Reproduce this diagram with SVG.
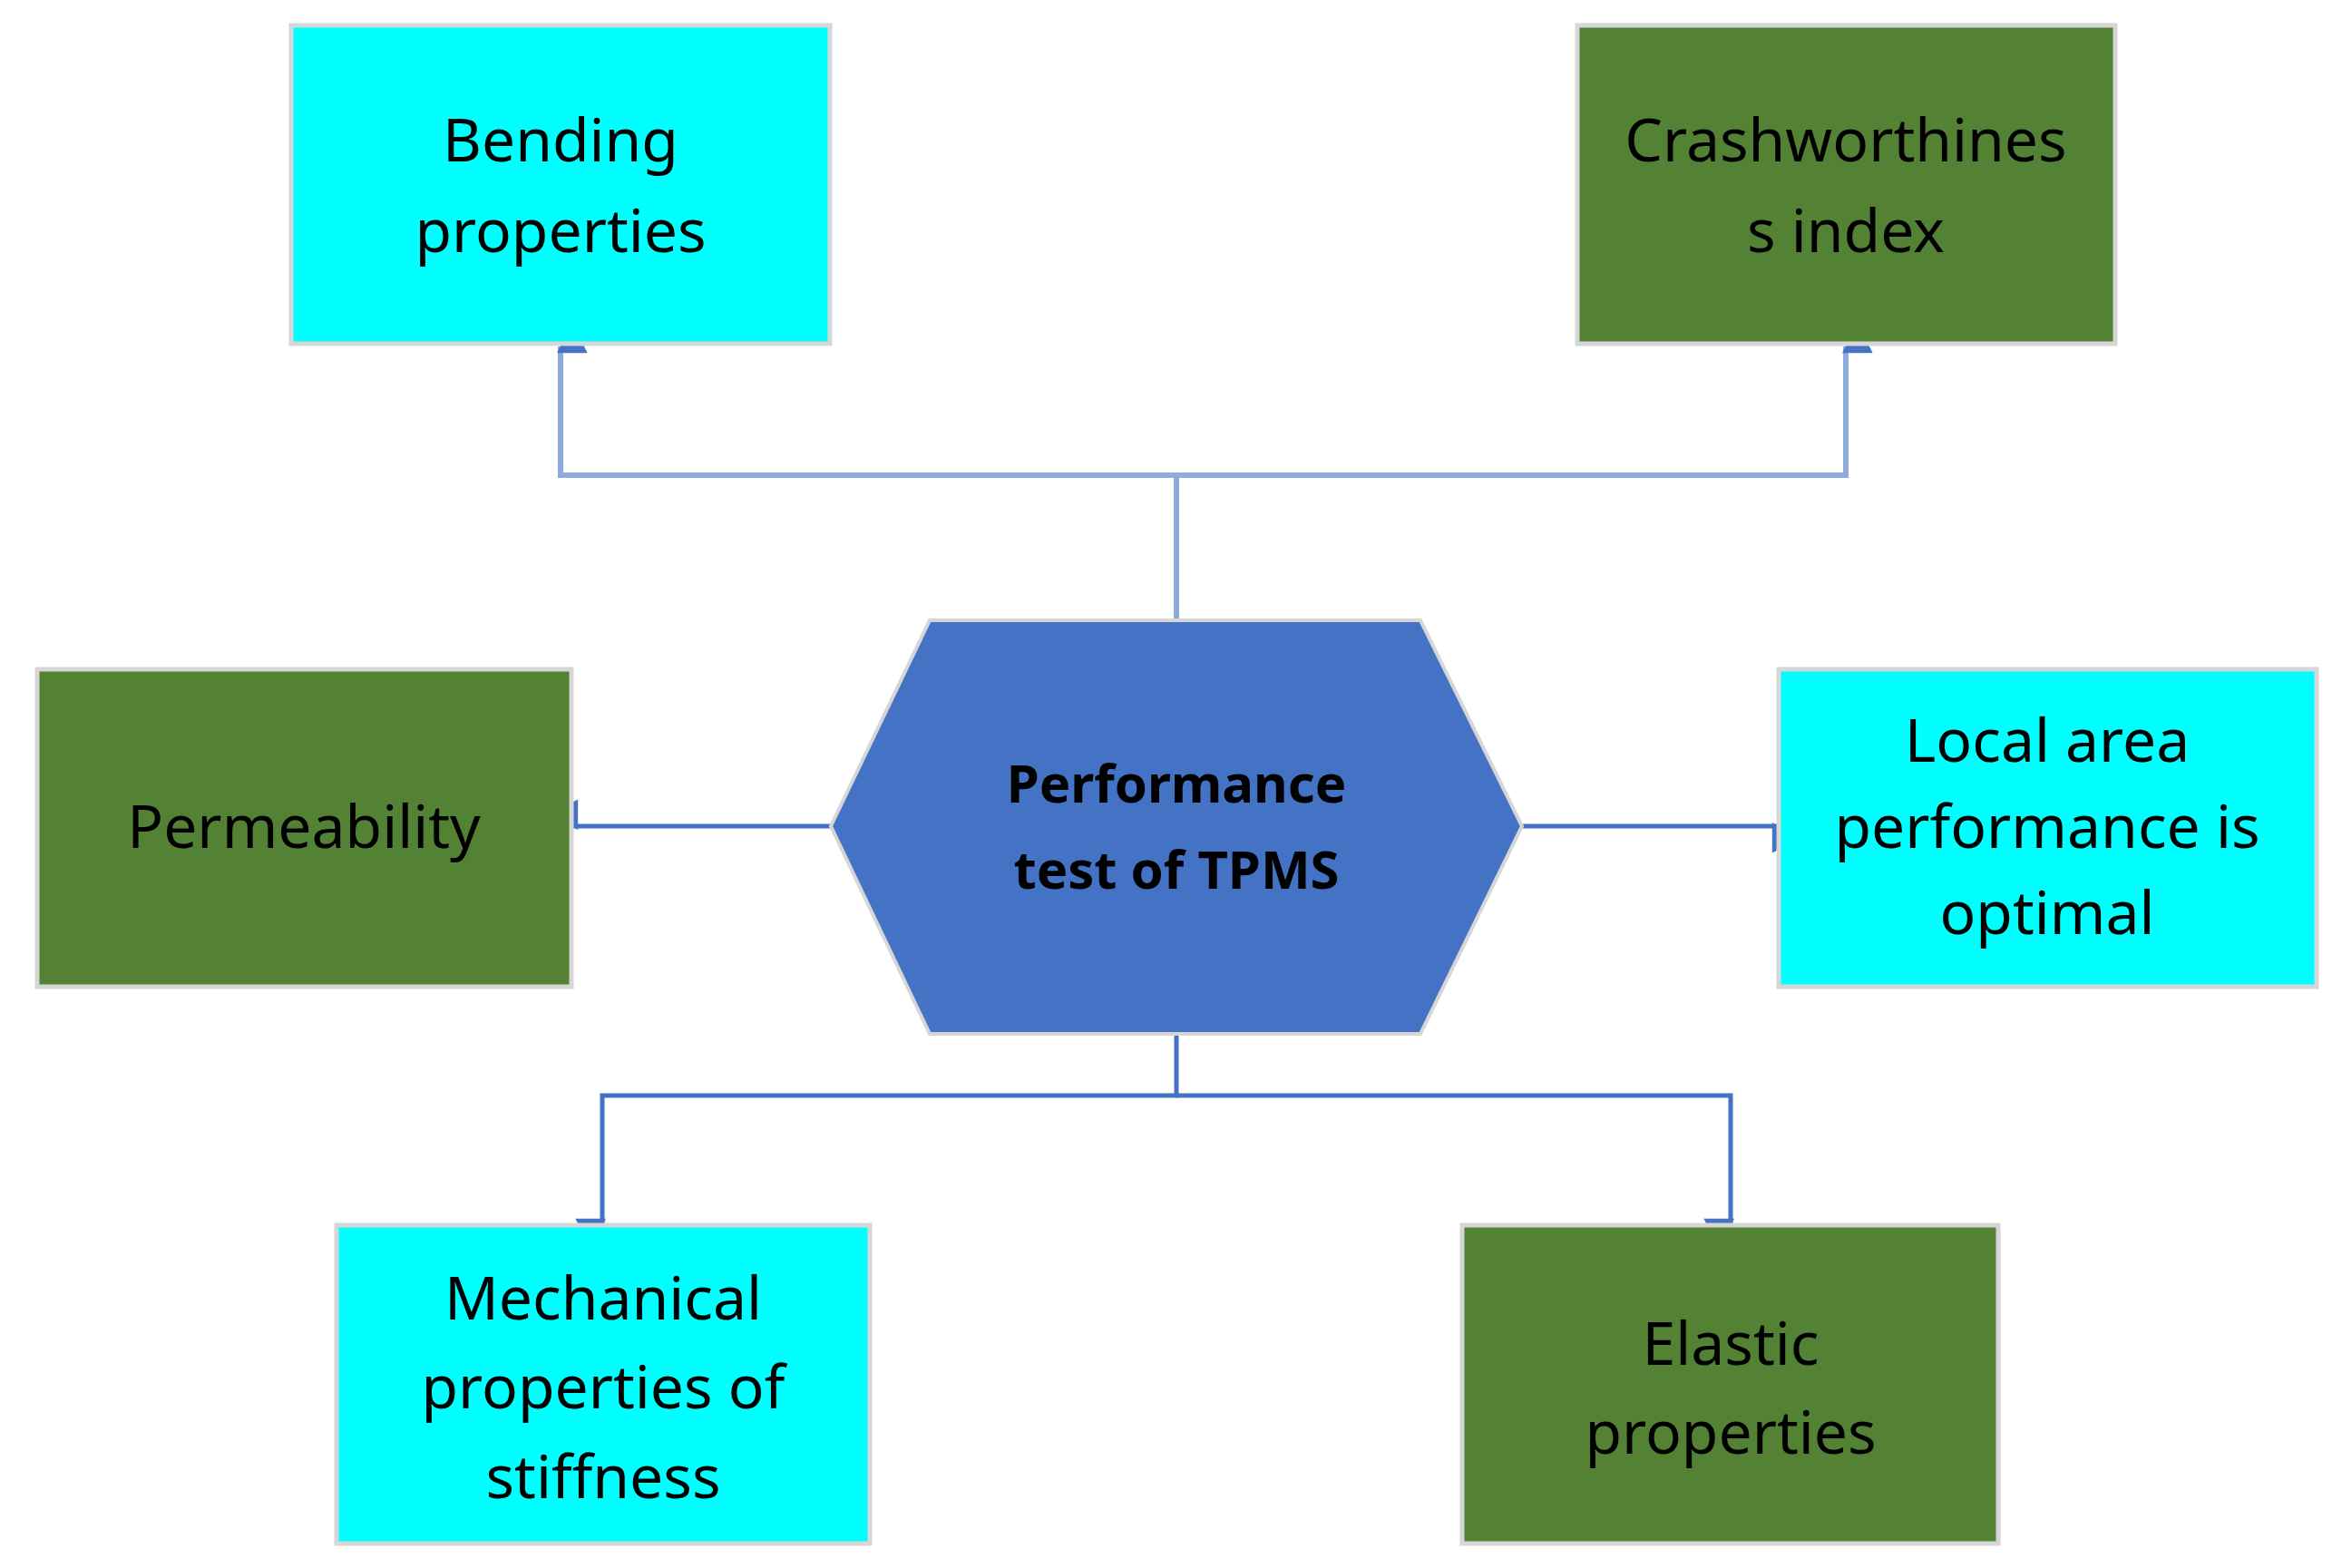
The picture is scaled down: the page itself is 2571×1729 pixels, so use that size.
<svg xmlns="http://www.w3.org/2000/svg" width="2571" height="1729" viewBox="0 0 2571 1729">
<style>
.box{stroke:#D6D6D6;stroke-width:5}
.c{fill:#00FFFF}.g{fill:#548235}
text{font-family:"Noto Sans","DejaVu Sans",sans-serif;font-size:66px;fill:#000;text-anchor:middle}
.h{font-weight:bold;font-size:58px}
.ln{fill:none;stroke:#4472C4;stroke-width:5}
.lt{fill:none;stroke:#8FAADC;stroke-width:6}
</style>
<defs><marker id="a" viewBox="0 0 10 10" refX="9" refY="5" markerWidth="8" markerHeight="8" markerUnits="userSpaceOnUse" orient="auto" style="overflow:visible"><path d="M0,0L10,5L0,10z" fill="#4472C4" transform="scale(4.2)" /></marker></defs>
<g id="connectors">
<path class="lt" d="M1297,684V524H618V382" marker-end="url(#a)"/>
<path class="lt" d="M1297,524H2035V382" marker-end="url(#a)"/>
<path class="ln" d="M916,911H630" marker-end="url(#a)"/>
<path class="ln" d="M1678,911H1961" marker-end="url(#a)"/>
<path class="ln" d="M1297,1140V1208H664V1351" marker-end="url(#a)"/>
<path class="ln" d="M1297,1208H1908V1351" marker-end="url(#a)"/>
</g>
<g id="bending"><rect class="box c" x="321" y="28" width="594" height="351"/><text x="618" y="178">Bending</text><text x="618" y="278">properties</text></g>
<g id="crash"><rect class="box g" x="1739" y="28" width="593" height="351"/><text x="2035" y="178">Crashworthines</text><text x="2035" y="278">s index</text></g>
<g id="perm"><rect class="box g" x="41" y="738" width="589" height="350"/><text x="335" y="935">Permeability</text></g>
<g id="local"><rect class="box c" x="1961" y="738" width="593" height="350"/><text x="2257" y="840">Local area</text><text x="2257" y="935">performance is</text><text x="2257" y="1030">optimal</text></g>
<g id="mech"><rect class="box c" x="371" y="1351" width="588" height="351"/><text x="665" y="1455">Mechanical</text><text x="665" y="1553">properties of</text><text x="665" y="1652">stiffness</text></g>
<g id="elastic"><rect class="box g" x="1612" y="1351" width="591" height="351"/><text x="1908" y="1505">Elastic</text><text x="1908" y="1603">properties</text></g>
<g id="hex"><polygon points="1025,684 1566,684 1678,911 1566,1140 1025,1140 916,911" fill="#4472C4" stroke="#D6D6D6" stroke-width="4"/><text class="h" x="1297" y="885">Performance</text><text class="h" x="1297" y="980">test of TPMS</text></g>
</svg>
